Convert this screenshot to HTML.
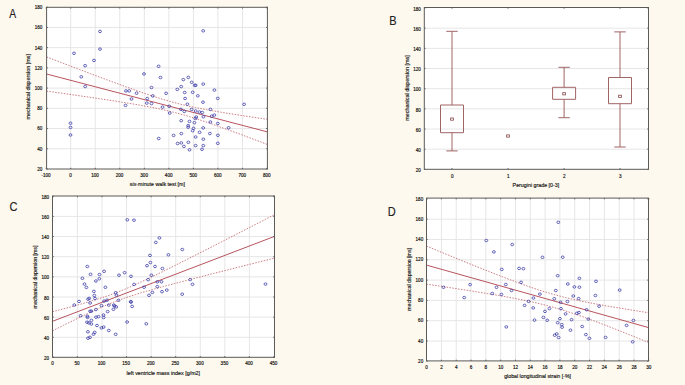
<!DOCTYPE html>
<html><head><meta charset="utf-8"><style>
html,body{margin:0;padding:0;background:#fef9ee;}
body{width:685px;height:385px;overflow:hidden;}
svg{display:block;}
.t{font-family:"Liberation Sans", sans-serif;font-size:5.1px;fill:#111;stroke:#111;stroke-width:0.18px;}
.a{font-family:"Liberation Sans", sans-serif;font-size:5.3px;fill:#111;stroke:#111;stroke-width:0.15px;}
.L{font-family:"Liberation Sans", sans-serif;font-size:12px;fill:#222;stroke:#222;stroke-width:0.15px;}
</style></head><body>
<svg width="685" height="385" viewBox="0 0 685 385">
<rect width="685" height="385" fill="#fef9ee"/>
<rect x="46.6" y="7.3" width="220.8" height="161.7" fill="#fff"/>
<path d="M70.7 7.3V169M95.24 7.3V169M119.79 7.3V169M144.33 7.3V169M168.87 7.3V169M193.41 7.3V169M217.96 7.3V169M242.5 7.3V169M46.6 27.43H267.4M46.6 47.65H267.4M46.6 67.88H267.4M46.6 88.1H267.4M46.6 108.33H267.4M46.6 128.55H267.4M46.6 148.78H267.4" stroke="#e6e6e6" stroke-width="1.0" fill="none"/>
<line x1="46.6" y1="74" x2="267.4" y2="131.9" stroke="#b8545e" stroke-width="1"/>
<path d="M46.6 56.93 L52.12 59.05 L57.64 61.16 L63.16 63.27 L68.68 65.37 L74.2 67.47 L79.72 69.57 L85.24 71.66 L90.76 73.75 L96.28 75.83 L101.8 77.9 L107.32 79.96 L112.84 82.01 L118.36 84.04 L123.88 86.06 L129.4 88.05 L134.92 90.02 L140.44 91.96 L145.96 93.86 L151.48 95.7 L157 97.49 L162.52 99.21 L168.04 100.84 L173.56 102.38 L179.08 103.82 L184.6 105.16 L190.12 106.41 L195.64 107.58 L201.16 108.67 L206.68 109.71 L212.2 110.71 L217.72 111.66 L223.24 112.58 L228.76 113.48 L234.28 114.35 L239.8 115.21 L245.32 116.05 L250.84 116.89 L256.36 117.71 L261.88 118.53 L267.4 119.33" stroke="#c4646c" stroke-width="0.85" fill="none" stroke-dasharray="1.5 1.4"/>
<path d="M46.6 91.07 L52.12 91.85 L57.64 92.63 L63.16 93.42 L68.68 94.21 L74.2 95 L79.72 95.8 L85.24 96.6 L90.76 97.41 L96.28 98.23 L101.8 99.05 L107.32 99.89 L112.84 100.73 L118.36 101.59 L123.88 102.47 L129.4 103.37 L134.92 104.3 L140.44 105.26 L145.96 106.25 L151.48 107.3 L157 108.41 L162.52 109.59 L168.04 110.85 L173.56 112.21 L179.08 113.66 L184.6 115.22 L190.12 116.86 L195.64 118.59 L201.16 120.39 L206.68 122.24 L212.2 124.14 L217.72 126.09 L223.24 128.06 L228.76 130.06 L234.28 132.08 L239.8 134.12 L245.32 136.17 L250.84 138.23 L256.36 140.3 L261.88 142.38 L267.4 144.47" stroke="#c4646c" stroke-width="0.85" fill="none" stroke-dasharray="1.5 1.4"/>
<g fill="none" stroke="#3434a6" stroke-width="0.75"><ellipse cx="100" cy="31.4" rx="1.45" ry="1.25"/><ellipse cx="100" cy="49.1" rx="1.45" ry="1.25"/><ellipse cx="74" cy="53.3" rx="1.45" ry="1.25"/><ellipse cx="94" cy="60.4" rx="1.45" ry="1.25"/><ellipse cx="85.1" cy="65.7" rx="1.45" ry="1.25"/><ellipse cx="81.3" cy="76.8" rx="1.45" ry="1.25"/><ellipse cx="85.2" cy="86.5" rx="1.45" ry="1.25"/><ellipse cx="144" cy="73.9" rx="1.45" ry="1.25"/><ellipse cx="151.5" cy="87.5" rx="1.45" ry="1.25"/><ellipse cx="70.5" cy="123.2" rx="1.45" ry="1.25"/><ellipse cx="70.5" cy="127.4" rx="1.45" ry="1.25"/><ellipse cx="70.5" cy="135" rx="1.45" ry="1.25"/><ellipse cx="126" cy="90.9" rx="1.45" ry="1.25"/><ellipse cx="129.2" cy="90.9" rx="1.45" ry="1.25"/><ellipse cx="136.6" cy="93.2" rx="1.45" ry="1.25"/><ellipse cx="131.5" cy="99" rx="1.45" ry="1.25"/><ellipse cx="125.5" cy="105.4" rx="1.45" ry="1.25"/><ellipse cx="152.8" cy="95.9" rx="1.45" ry="1.25"/><ellipse cx="147.2" cy="98.5" rx="1.45" ry="1.25"/><ellipse cx="146.8" cy="103.1" rx="1.45" ry="1.25"/><ellipse cx="151.5" cy="103.6" rx="1.45" ry="1.25"/><ellipse cx="203.2" cy="30.8" rx="1.45" ry="1.25"/><ellipse cx="158.6" cy="66.3" rx="1.45" ry="1.25"/><ellipse cx="160.5" cy="77.5" rx="1.45" ry="1.25"/><ellipse cx="183.3" cy="79.6" rx="1.45" ry="1.25"/><ellipse cx="188.3" cy="77.4" rx="1.45" ry="1.25"/><ellipse cx="191.7" cy="82.3" rx="1.45" ry="1.25"/><ellipse cx="194.7" cy="85.3" rx="1.45" ry="1.25"/><ellipse cx="195.7" cy="85.3" rx="1.45" ry="1.25"/><ellipse cx="203.2" cy="84.1" rx="1.45" ry="1.25"/><ellipse cx="181.2" cy="86.6" rx="1.45" ry="1.25"/><ellipse cx="177.3" cy="89.4" rx="1.45" ry="1.25"/><ellipse cx="166.1" cy="93.3" rx="1.45" ry="1.25"/><ellipse cx="184.7" cy="92.5" rx="1.45" ry="1.25"/><ellipse cx="192.7" cy="92.3" rx="1.45" ry="1.25"/><ellipse cx="197.8" cy="95.8" rx="1.45" ry="1.25"/><ellipse cx="185.1" cy="98.5" rx="1.45" ry="1.25"/><ellipse cx="203" cy="102.2" rx="1.45" ry="1.25"/><ellipse cx="187.4" cy="104.2" rx="1.45" ry="1.25"/><ellipse cx="162.5" cy="107.1" rx="1.45" ry="1.25"/><ellipse cx="169.2" cy="106.3" rx="1.45" ry="1.25"/><ellipse cx="180.9" cy="109.4" rx="1.45" ry="1.25"/><ellipse cx="184.3" cy="111.4" rx="1.45" ry="1.25"/><ellipse cx="191.6" cy="109.4" rx="1.45" ry="1.25"/><ellipse cx="195.7" cy="111" rx="1.45" ry="1.25"/><ellipse cx="199.4" cy="112" rx="1.45" ry="1.25"/><ellipse cx="202.2" cy="112.5" rx="1.45" ry="1.25"/><ellipse cx="203.4" cy="116.8" rx="1.45" ry="1.25"/><ellipse cx="169.7" cy="113.1" rx="1.45" ry="1.25"/><ellipse cx="196.2" cy="117" rx="1.45" ry="1.25"/><ellipse cx="195.4" cy="118.5" rx="1.45" ry="1.25"/><ellipse cx="181.2" cy="120.7" rx="1.45" ry="1.25"/><ellipse cx="189.5" cy="121.4" rx="1.45" ry="1.25"/><ellipse cx="194.4" cy="122.7" rx="1.45" ry="1.25"/><ellipse cx="188.2" cy="125.6" rx="1.45" ry="1.25"/><ellipse cx="188.2" cy="127.2" rx="1.45" ry="1.25"/><ellipse cx="214.4" cy="90.1" rx="1.45" ry="1.25"/><ellipse cx="217.8" cy="98.4" rx="1.45" ry="1.25"/><ellipse cx="244.1" cy="104.3" rx="1.45" ry="1.25"/><ellipse cx="210.4" cy="109.4" rx="1.45" ry="1.25"/><ellipse cx="211.7" cy="116.2" rx="1.45" ry="1.25"/><ellipse cx="214.3" cy="115.1" rx="1.45" ry="1.25"/><ellipse cx="210.4" cy="122" rx="1.45" ry="1.25"/><ellipse cx="217.8" cy="123.5" rx="1.45" ry="1.25"/><ellipse cx="228.6" cy="127.8" rx="1.45" ry="1.25"/><ellipse cx="203.2" cy="127.9" rx="1.45" ry="1.25"/><ellipse cx="193.5" cy="128.3" rx="1.45" ry="1.25"/><ellipse cx="192.7" cy="130.7" rx="1.45" ry="1.25"/><ellipse cx="199.6" cy="132.3" rx="1.45" ry="1.25"/><ellipse cx="209.9" cy="133.5" rx="1.45" ry="1.25"/><ellipse cx="217.9" cy="135.3" rx="1.45" ry="1.25"/><ellipse cx="181.3" cy="133.6" rx="1.45" ry="1.25"/><ellipse cx="173.6" cy="135.4" rx="1.45" ry="1.25"/><ellipse cx="158.7" cy="138.5" rx="1.45" ry="1.25"/><ellipse cx="195.6" cy="137" rx="1.45" ry="1.25"/><ellipse cx="203.3" cy="139.2" rx="1.45" ry="1.25"/><ellipse cx="177.6" cy="143.5" rx="1.45" ry="1.25"/><ellipse cx="181.3" cy="142.9" rx="1.45" ry="1.25"/><ellipse cx="188.4" cy="142.3" rx="1.45" ry="1.25"/><ellipse cx="183.9" cy="146.4" rx="1.45" ry="1.25"/><ellipse cx="195.6" cy="145.6" rx="1.45" ry="1.25"/><ellipse cx="203.3" cy="145.6" rx="1.45" ry="1.25"/><ellipse cx="202" cy="149.3" rx="1.45" ry="1.25"/><ellipse cx="189.5" cy="149.8" rx="1.45" ry="1.25"/><ellipse cx="217.8" cy="143.3" rx="1.45" ry="1.25"/></g>
<rect x="46.6" y="7.3" width="220.8" height="161.7" fill="none" stroke="#5a5a5a" stroke-width="1"/>
<path d="M46.16 169v-1.2M46.16 7.3v1.2M70.7 169v-1.2M70.7 7.3v1.2M95.24 169v-1.2M95.24 7.3v1.2M119.79 169v-1.2M119.79 7.3v1.2M144.33 169v-1.2M144.33 7.3v1.2M168.87 169v-1.2M168.87 7.3v1.2M193.41 169v-1.2M193.41 7.3v1.2M217.96 169v-1.2M217.96 7.3v1.2M242.5 169v-1.2M242.5 7.3v1.2M267.04 169v-1.2M267.04 7.3v1.2M46.6 7.2h1.2M267.4 7.2h-1.2M46.6 27.43h1.2M267.4 27.43h-1.2M46.6 47.65h1.2M267.4 47.65h-1.2M46.6 67.88h1.2M267.4 67.88h-1.2M46.6 88.1h1.2M267.4 88.1h-1.2M46.6 108.33h1.2M267.4 108.33h-1.2M46.6 128.55h1.2M267.4 128.55h-1.2M46.6 148.78h1.2M267.4 148.78h-1.2M46.6 169h1.2M267.4 169h-1.2" stroke="#5a5a5a" stroke-width="1" fill="none"/>
<text transform="translate(42.4 170.9) scale(0.9 1)" text-anchor="end" class="t">20</text>
<text transform="translate(42.4 150.68) scale(0.9 1)" text-anchor="end" class="t">40</text>
<text transform="translate(42.4 130.45) scale(0.9 1)" text-anchor="end" class="t">60</text>
<text transform="translate(42.4 110.22) scale(0.9 1)" text-anchor="end" class="t">80</text>
<text transform="translate(42.4 90) scale(0.9 1)" text-anchor="end" class="t">100</text>
<text transform="translate(42.4 69.77) scale(0.9 1)" text-anchor="end" class="t">120</text>
<text transform="translate(42.4 49.55) scale(0.9 1)" text-anchor="end" class="t">140</text>
<text transform="translate(42.4 29.33) scale(0.9 1)" text-anchor="end" class="t">160</text>
<text transform="translate(42.4 9.1) scale(0.9 1)" text-anchor="end" class="t">180</text>
<text transform="translate(45.96 176.6) scale(0.9 1)" text-anchor="middle" class="t">-100</text>
<text transform="translate(70.5 176.6) scale(0.9 1)" text-anchor="middle" class="t">0</text>
<text transform="translate(95.04 176.6) scale(0.9 1)" text-anchor="middle" class="t">100</text>
<text transform="translate(119.59 176.6) scale(0.9 1)" text-anchor="middle" class="t">200</text>
<text transform="translate(144.13 176.6) scale(0.9 1)" text-anchor="middle" class="t">300</text>
<text transform="translate(168.67 176.6) scale(0.9 1)" text-anchor="middle" class="t">400</text>
<text transform="translate(193.21 176.6) scale(0.9 1)" text-anchor="middle" class="t">500</text>
<text transform="translate(217.76 176.6) scale(0.9 1)" text-anchor="middle" class="t">600</text>
<text transform="translate(242.3 176.6) scale(0.9 1)" text-anchor="middle" class="t">700</text>
<text transform="translate(266.84 176.6) scale(0.9 1)" text-anchor="middle" class="t">800</text>
<rect x="424.3" y="7.5" width="224.2" height="161.8" fill="#fff"/>
<path d="M424.3 28.2H648.5M424.3 48.36H648.5M424.3 68.52H648.5M424.3 88.69H648.5M424.3 108.85H648.5M424.3 129.02H648.5M424.3 149.19H648.5" stroke="#e6e6e6" stroke-width="1.0" fill="none"/>
<path d="M452 31.3V105M452 132.7V150.9M446.3 31.3H457.7M446.3 150.9H457.7M440.5 105H463.5V132.7H440.5Z" stroke="#a06464" stroke-width="1" fill="none"/>
<rect x="450.65" y="118" width="2.7" height="2.2" fill="none" stroke="#7a3a3a" stroke-width="0.75"/>
<path d="" stroke="#a06464" stroke-width="1" fill="none"/>
<rect x="506.65" y="134.9" width="2.7" height="2.2" fill="none" stroke="#7a3a3a" stroke-width="0.75"/>
<path d="M564.1 67.3V87.3M564.1 99.3V117.7M558.4 67.3H569.8M558.4 117.7H569.8M552.6 87.3H575.6V99.3H552.6Z" stroke="#a06464" stroke-width="1" fill="none"/>
<rect x="562.75" y="92.7" width="2.7" height="2.2" fill="none" stroke="#7a3a3a" stroke-width="0.75"/>
<path d="M620 31.9V77.5M620 103.7V147M614.3 31.9H625.7M614.3 147H625.7M608.5 77.5H631.5V103.7H608.5Z" stroke="#a06464" stroke-width="1" fill="none"/>
<rect x="618.65" y="95.2" width="2.7" height="2.2" fill="none" stroke="#7a3a3a" stroke-width="0.75"/>
<rect x="424.3" y="7.5" width="224.2" height="161.8" fill="none" stroke="#5a5a5a" stroke-width="1"/>
<path d="M452 169.3v-1.2M452 7.5v1.2M508 169.3v-1.2M508 7.5v1.2M564.1 169.3v-1.2M564.1 7.5v1.2M620 169.3v-1.2M620 7.5v1.2M424.3 8.03h1.2M648.5 8.03h-1.2M424.3 28.2h1.2M648.5 28.2h-1.2M424.3 48.36h1.2M648.5 48.36h-1.2M424.3 68.52h1.2M648.5 68.52h-1.2M424.3 88.69h1.2M648.5 88.69h-1.2M424.3 108.85h1.2M648.5 108.85h-1.2M424.3 129.02h1.2M648.5 129.02h-1.2M424.3 149.19h1.2M648.5 149.19h-1.2M424.3 169.35h1.2M648.5 169.35h-1.2" stroke="#5a5a5a" stroke-width="1" fill="none"/>
<text transform="translate(420.8 172.05) scale(0.9 1)" text-anchor="end" class="t">20</text>
<text transform="translate(420.8 151.88) scale(0.9 1)" text-anchor="end" class="t">40</text>
<text transform="translate(420.8 131.72) scale(0.9 1)" text-anchor="end" class="t">60</text>
<text transform="translate(420.8 111.55) scale(0.9 1)" text-anchor="end" class="t">80</text>
<text transform="translate(420.8 91.39) scale(0.9 1)" text-anchor="end" class="t">100</text>
<text transform="translate(420.8 71.22) scale(0.9 1)" text-anchor="end" class="t">120</text>
<text transform="translate(420.8 51.06) scale(0.9 1)" text-anchor="end" class="t">140</text>
<text transform="translate(420.8 30.9) scale(0.9 1)" text-anchor="end" class="t">160</text>
<text transform="translate(420.8 10.73) scale(0.9 1)" text-anchor="end" class="t">180</text>
<text transform="translate(452.2 178.2) scale(0.9 1)" text-anchor="middle" class="t">0</text>
<text transform="translate(508.2 178.2) scale(0.9 1)" text-anchor="middle" class="t">1</text>
<text transform="translate(564.3 178.2) scale(0.9 1)" text-anchor="middle" class="t">2</text>
<text transform="translate(620.2 178.2) scale(0.9 1)" text-anchor="middle" class="t">3</text>
<rect x="52.5" y="196" width="222" height="161.3" fill="#fff"/>
<path d="M77.4 196V357.3M101.97 196V357.3M126.54 196V357.3M151.11 196V357.3M175.69 196V357.3M200.26 196V357.3M224.83 196V357.3M249.4 196V357.3M52.5 216.4H274.5M52.5 236.55H274.5M52.5 256.7H274.5M52.5 276.85H274.5M52.5 297H274.5M52.5 317.15H274.5M52.5 337.3H274.5" stroke="#e6e6e6" stroke-width="1.0" fill="none"/>
<line x1="52.5" y1="321.3" x2="274.5" y2="236.4" stroke="#b8545e" stroke-width="1"/>
<path d="M52.5 311.77 L58.05 310.31 L63.6 308.83 L69.15 307.34 L74.7 305.82 L80.25 304.27 L85.8 302.68 L91.35 301.05 L96.9 299.35 L102.45 297.56 L108 295.68 L113.55 293.68 L119.1 291.55 L124.65 289.29 L130.2 286.92 L135.75 284.44 L141.3 281.89 L146.85 279.27 L152.4 276.61 L157.95 273.91 L163.5 271.18 L169.05 268.43 L174.6 265.66 L180.15 262.87 L185.7 260.08 L191.25 257.27 L196.8 254.46 L202.35 251.64 L207.9 248.82 L213.45 245.99 L219 243.16 L224.55 240.32 L230.1 237.48 L235.65 234.64 L241.2 231.8 L246.75 228.95 L252.3 226.1 L257.85 223.26 L263.4 220.41 L268.95 217.55 L274.5 214.7" stroke="#c4646c" stroke-width="0.85" fill="none" stroke-dasharray="1.5 1.4"/>
<path d="M52.5 330.83 L58.05 328.05 L63.6 325.28 L69.15 322.53 L74.7 319.8 L80.25 317.11 L85.8 314.45 L91.35 311.84 L96.9 309.29 L102.45 306.83 L108 304.47 L113.55 302.23 L119.1 300.11 L124.65 298.13 L130.2 296.25 L135.75 294.48 L141.3 292.79 L146.85 291.16 L152.4 289.58 L157.95 288.03 L163.5 286.52 L169.05 285.03 L174.6 283.55 L180.15 282.09 L185.7 280.64 L191.25 279.2 L196.8 277.77 L202.35 276.34 L207.9 274.92 L213.45 273.51 L219 272.09 L224.55 270.68 L230.1 269.28 L235.65 267.87 L241.2 266.47 L246.75 265.07 L252.3 263.68 L257.85 262.28 L263.4 260.88 L268.95 259.49 L274.5 258.1" stroke="#c4646c" stroke-width="0.85" fill="none" stroke-dasharray="1.5 1.4"/>
<g fill="none" stroke="#3434a6" stroke-width="0.75"><ellipse cx="127.3" cy="219.8" rx="1.45" ry="1.25"/><ellipse cx="134" cy="220.2" rx="1.45" ry="1.25"/><ellipse cx="159.4" cy="237.9" rx="1.45" ry="1.25"/><ellipse cx="155.8" cy="242.4" rx="1.45" ry="1.25"/><ellipse cx="150" cy="255.4" rx="1.45" ry="1.25"/><ellipse cx="150.4" cy="262.5" rx="1.45" ry="1.25"/><ellipse cx="147" cy="265.7" rx="1.45" ry="1.25"/><ellipse cx="155" cy="266.5" rx="1.45" ry="1.25"/><ellipse cx="162.4" cy="268.5" rx="1.45" ry="1.25"/><ellipse cx="87.3" cy="266.5" rx="1.45" ry="1.25"/><ellipse cx="104.1" cy="271.3" rx="1.45" ry="1.25"/><ellipse cx="124.6" cy="272.7" rx="1.45" ry="1.25"/><ellipse cx="90.6" cy="274.3" rx="1.45" ry="1.25"/><ellipse cx="99.5" cy="274.5" rx="1.45" ry="1.25"/><ellipse cx="119" cy="275.2" rx="1.45" ry="1.25"/><ellipse cx="131" cy="276.3" rx="1.45" ry="1.25"/><ellipse cx="151.4" cy="275.2" rx="1.45" ry="1.25"/><ellipse cx="82.4" cy="278.3" rx="1.45" ry="1.25"/><ellipse cx="99.3" cy="278.8" rx="1.45" ry="1.25"/><ellipse cx="95.9" cy="281" rx="1.45" ry="1.25"/><ellipse cx="84.5" cy="284.1" rx="1.45" ry="1.25"/><ellipse cx="86.4" cy="287.4" rx="1.45" ry="1.25"/><ellipse cx="105.4" cy="287.3" rx="1.45" ry="1.25"/><ellipse cx="93.9" cy="291.4" rx="1.45" ry="1.25"/><ellipse cx="94.3" cy="295.5" rx="1.45" ry="1.25"/><ellipse cx="95" cy="298.6" rx="1.45" ry="1.25"/><ellipse cx="89.3" cy="298.4" rx="1.45" ry="1.25"/><ellipse cx="88.1" cy="299.2" rx="1.45" ry="1.25"/><ellipse cx="79" cy="301.4" rx="1.45" ry="1.25"/><ellipse cx="74.3" cy="305" rx="1.45" ry="1.25"/><ellipse cx="90.1" cy="303" rx="1.45" ry="1.25"/><ellipse cx="104.1" cy="301.1" rx="1.45" ry="1.25"/><ellipse cx="107" cy="300.2" rx="1.45" ry="1.25"/><ellipse cx="108.8" cy="305.1" rx="1.45" ry="1.25"/><ellipse cx="101.5" cy="305.6" rx="1.45" ry="1.25"/><ellipse cx="113.8" cy="305.1" rx="1.45" ry="1.25"/><ellipse cx="113.4" cy="309.3" rx="1.45" ry="1.25"/><ellipse cx="90.1" cy="311.2" rx="1.45" ry="1.25"/><ellipse cx="91.4" cy="311.2" rx="1.45" ry="1.25"/><ellipse cx="95.9" cy="309.5" rx="1.45" ry="1.25"/><ellipse cx="107.6" cy="311.6" rx="1.45" ry="1.25"/><ellipse cx="80.6" cy="315.7" rx="1.45" ry="1.25"/><ellipse cx="87.3" cy="316.2" rx="1.45" ry="1.25"/><ellipse cx="87.6" cy="317.4" rx="1.45" ry="1.25"/><ellipse cx="96" cy="317.2" rx="1.45" ry="1.25"/><ellipse cx="98.5" cy="316.6" rx="1.45" ry="1.25"/><ellipse cx="103.5" cy="315" rx="1.45" ry="1.25"/><ellipse cx="103.6" cy="317.5" rx="1.45" ry="1.25"/><ellipse cx="91.4" cy="320.3" rx="1.45" ry="1.25"/><ellipse cx="87" cy="322.2" rx="1.45" ry="1.25"/><ellipse cx="88.9" cy="322.9" rx="1.45" ry="1.25"/><ellipse cx="91.4" cy="324" rx="1.45" ry="1.25"/><ellipse cx="97" cy="325.5" rx="1.45" ry="1.25"/><ellipse cx="101.4" cy="327.9" rx="1.45" ry="1.25"/><ellipse cx="103.6" cy="327.1" rx="1.45" ry="1.25"/><ellipse cx="108.8" cy="330.5" rx="1.45" ry="1.25"/><ellipse cx="87.9" cy="331.8" rx="1.45" ry="1.25"/><ellipse cx="94.7" cy="332.4" rx="1.45" ry="1.25"/><ellipse cx="93.5" cy="334.2" rx="1.45" ry="1.25"/><ellipse cx="90" cy="337.3" rx="1.45" ry="1.25"/><ellipse cx="88" cy="338.2" rx="1.45" ry="1.25"/><ellipse cx="115.7" cy="334.3" rx="1.45" ry="1.25"/><ellipse cx="127.1" cy="322" rx="1.45" ry="1.25"/><ellipse cx="148.1" cy="279.7" rx="1.45" ry="1.25"/><ellipse cx="157.4" cy="281.8" rx="1.45" ry="1.25"/><ellipse cx="161.5" cy="281.8" rx="1.45" ry="1.25"/><ellipse cx="134.1" cy="284.4" rx="1.45" ry="1.25"/><ellipse cx="144.1" cy="287.2" rx="1.45" ry="1.25"/><ellipse cx="157.3" cy="286.7" rx="1.45" ry="1.25"/><ellipse cx="162" cy="291.7" rx="1.45" ry="1.25"/><ellipse cx="152.4" cy="292.4" rx="1.45" ry="1.25"/><ellipse cx="149" cy="295.3" rx="1.45" ry="1.25"/><ellipse cx="115.7" cy="292.7" rx="1.45" ry="1.25"/><ellipse cx="116.4" cy="295.1" rx="1.45" ry="1.25"/><ellipse cx="118.5" cy="300.3" rx="1.45" ry="1.25"/><ellipse cx="130.8" cy="301.6" rx="1.45" ry="1.25"/><ellipse cx="131" cy="302.1" rx="1.45" ry="1.25"/><ellipse cx="132.1" cy="306.4" rx="1.45" ry="1.25"/><ellipse cx="114.5" cy="306" rx="1.45" ry="1.25"/><ellipse cx="116.2" cy="306.9" rx="1.45" ry="1.25"/><ellipse cx="146.3" cy="323.8" rx="1.45" ry="1.25"/><ellipse cx="182.3" cy="249.5" rx="1.45" ry="1.25"/><ellipse cx="168.4" cy="254.8" rx="1.45" ry="1.25"/><ellipse cx="190.2" cy="279.6" rx="1.45" ry="1.25"/><ellipse cx="192.5" cy="284.3" rx="1.45" ry="1.25"/><ellipse cx="166.8" cy="290.1" rx="1.45" ry="1.25"/><ellipse cx="182.2" cy="294.2" rx="1.45" ry="1.25"/><ellipse cx="265.5" cy="284.1" rx="1.45" ry="1.25"/></g>
<rect x="52.5" y="196" width="222" height="161.3" fill="none" stroke="#5a5a5a" stroke-width="1"/>
<path d="M52.83 357.3v-1.2M52.83 196v1.2M77.4 357.3v-1.2M77.4 196v1.2M101.97 357.3v-1.2M101.97 196v1.2M126.54 357.3v-1.2M126.54 196v1.2M151.11 357.3v-1.2M151.11 196v1.2M175.69 357.3v-1.2M175.69 196v1.2M200.26 357.3v-1.2M200.26 196v1.2M224.83 357.3v-1.2M224.83 196v1.2M249.4 357.3v-1.2M249.4 196v1.2M273.97 357.3v-1.2M273.97 196v1.2M52.5 196.25h1.2M274.5 196.25h-1.2M52.5 216.4h1.2M274.5 216.4h-1.2M52.5 236.55h1.2M274.5 236.55h-1.2M52.5 256.7h1.2M274.5 256.7h-1.2M52.5 276.85h1.2M274.5 276.85h-1.2M52.5 297h1.2M274.5 297h-1.2M52.5 317.15h1.2M274.5 317.15h-1.2M52.5 337.3h1.2M274.5 337.3h-1.2M52.5 357.45h1.2M274.5 357.45h-1.2" stroke="#5a5a5a" stroke-width="1" fill="none"/>
<text transform="translate(49.1 360.05) scale(0.9 1)" text-anchor="end" class="t">20</text>
<text transform="translate(49.1 339.9) scale(0.9 1)" text-anchor="end" class="t">40</text>
<text transform="translate(49.1 319.75) scale(0.9 1)" text-anchor="end" class="t">60</text>
<text transform="translate(49.1 299.6) scale(0.9 1)" text-anchor="end" class="t">80</text>
<text transform="translate(49.1 279.45) scale(0.9 1)" text-anchor="end" class="t">100</text>
<text transform="translate(49.1 259.3) scale(0.9 1)" text-anchor="end" class="t">120</text>
<text transform="translate(49.1 239.15) scale(0.9 1)" text-anchor="end" class="t">140</text>
<text transform="translate(49.1 219) scale(0.9 1)" text-anchor="end" class="t">160</text>
<text transform="translate(49.1 198.85) scale(0.9 1)" text-anchor="end" class="t">180</text>
<text transform="translate(52.43 365.3) scale(0.9 1)" text-anchor="middle" class="t">0</text>
<text transform="translate(77 365.3) scale(0.9 1)" text-anchor="middle" class="t">50</text>
<text transform="translate(101.57 365.3) scale(0.9 1)" text-anchor="middle" class="t">100</text>
<text transform="translate(126.14 365.3) scale(0.9 1)" text-anchor="middle" class="t">150</text>
<text transform="translate(150.71 365.3) scale(0.9 1)" text-anchor="middle" class="t">200</text>
<text transform="translate(175.29 365.3) scale(0.9 1)" text-anchor="middle" class="t">250</text>
<text transform="translate(199.86 365.3) scale(0.9 1)" text-anchor="middle" class="t">300</text>
<text transform="translate(224.43 365.3) scale(0.9 1)" text-anchor="middle" class="t">350</text>
<text transform="translate(249 365.3) scale(0.9 1)" text-anchor="middle" class="t">400</text>
<text transform="translate(273.57 365.3) scale(0.9 1)" text-anchor="middle" class="t">450</text>
<rect x="426.5" y="198.1" width="222" height="162.8" fill="#fff"/>
<path d="M441.41 198.1V360.9M456.23 198.1V360.9M471.04 198.1V360.9M485.85 198.1V360.9M500.67 198.1V360.9M515.48 198.1V360.9M530.29 198.1V360.9M545.11 198.1V360.9M559.92 198.1V360.9M574.73 198.1V360.9M589.55 198.1V360.9M604.36 198.1V360.9M619.17 198.1V360.9M633.99 198.1V360.9M426.5 219.2H648.5M426.5 239.5H648.5M426.5 259.8H648.5M426.5 280.1H648.5M426.5 300.4H648.5M426.5 320.7H648.5M426.5 341H648.5" stroke="#e6e6e6" stroke-width="1.0" fill="none"/>
<line x1="426.5" y1="265.1" x2="648.5" y2="327.6" stroke="#b8545e" stroke-width="1"/>
<path d="M426.5 246.09 L432.05 248.38 L437.6 250.67 L443.15 252.96 L448.7 255.24 L454.25 257.52 L459.8 259.78 L465.35 262.05 L470.9 264.3 L476.45 266.54 L482 268.76 L487.55 270.98 L493.1 273.17 L498.65 275.34 L504.2 277.49 L509.75 279.61 L515.3 281.69 L520.85 283.73 L526.4 285.72 L531.95 287.64 L537.5 289.5 L543.05 291.28 L548.6 292.97 L554.15 294.56 L559.7 296.07 L565.25 297.48 L570.8 298.8 L576.35 300.05 L581.9 301.23 L587.45 302.36 L593 303.43 L598.55 304.46 L604.1 305.46 L609.65 306.43 L615.2 307.38 L620.75 308.3 L626.3 309.21 L631.85 310.1 L637.4 310.99 L642.95 311.86 L648.5 312.72" stroke="#c4646c" stroke-width="0.85" fill="none" stroke-dasharray="1.5 1.4"/>
<path d="M426.5 284.11 L432.05 284.94 L437.6 285.78 L443.15 286.62 L448.7 287.46 L454.25 288.31 L459.8 289.17 L465.35 290.03 L470.9 290.9 L476.45 291.79 L482 292.69 L487.55 293.6 L493.1 294.53 L498.65 295.48 L504.2 296.46 L509.75 297.47 L515.3 298.51 L520.85 299.6 L526.4 300.73 L531.95 301.93 L537.5 303.2 L543.05 304.55 L548.6 305.98 L554.15 307.51 L559.7 309.13 L565.25 310.85 L570.8 312.65 L576.35 314.52 L581.9 316.47 L587.45 318.47 L593 320.52 L598.55 322.61 L604.1 324.74 L609.65 326.89 L615.2 329.07 L620.75 331.27 L626.3 333.49 L631.85 335.72 L637.4 337.96 L642.95 340.22 L648.5 342.48" stroke="#c4646c" stroke-width="0.85" fill="none" stroke-dasharray="1.5 1.4"/>
<g fill="none" stroke="#3434a6" stroke-width="0.75"><ellipse cx="486.3" cy="240.5" rx="1.45" ry="1.25"/><ellipse cx="493.9" cy="251.9" rx="1.45" ry="1.25"/><ellipse cx="512.2" cy="244.5" rx="1.45" ry="1.25"/><ellipse cx="501.8" cy="269.4" rx="1.45" ry="1.25"/><ellipse cx="519.1" cy="268.4" rx="1.45" ry="1.25"/><ellipse cx="523.4" cy="268.7" rx="1.45" ry="1.25"/><ellipse cx="443.5" cy="287.3" rx="1.45" ry="1.25"/><ellipse cx="470.1" cy="284.6" rx="1.45" ry="1.25"/><ellipse cx="464.2" cy="297.6" rx="1.45" ry="1.25"/><ellipse cx="496.5" cy="287.3" rx="1.45" ry="1.25"/><ellipse cx="492.3" cy="293.5" rx="1.45" ry="1.25"/><ellipse cx="501.4" cy="294.4" rx="1.45" ry="1.25"/><ellipse cx="505.8" cy="284.5" rx="1.45" ry="1.25"/><ellipse cx="558.3" cy="222.3" rx="1.45" ry="1.25"/><ellipse cx="542.5" cy="257.3" rx="1.45" ry="1.25"/><ellipse cx="562.7" cy="257.2" rx="1.45" ry="1.25"/><ellipse cx="557.7" cy="275.7" rx="1.45" ry="1.25"/><ellipse cx="579.4" cy="278.3" rx="1.45" ry="1.25"/><ellipse cx="521.1" cy="282.3" rx="1.45" ry="1.25"/><ellipse cx="567.8" cy="284" rx="1.45" ry="1.25"/><ellipse cx="574.4" cy="286.9" rx="1.45" ry="1.25"/><ellipse cx="579.4" cy="287.2" rx="1.45" ry="1.25"/><ellipse cx="511.5" cy="290.5" rx="1.45" ry="1.25"/><ellipse cx="555.8" cy="290.5" rx="1.45" ry="1.25"/><ellipse cx="539.9" cy="294.1" rx="1.45" ry="1.25"/><ellipse cx="533.4" cy="298" rx="1.45" ry="1.25"/><ellipse cx="554.3" cy="298.7" rx="1.45" ry="1.25"/><ellipse cx="573.3" cy="296" rx="1.45" ry="1.25"/><ellipse cx="578.7" cy="298.6" rx="1.45" ry="1.25"/><ellipse cx="528.6" cy="301.4" rx="1.45" ry="1.25"/><ellipse cx="560.6" cy="302.3" rx="1.45" ry="1.25"/><ellipse cx="567.4" cy="301.5" rx="1.45" ry="1.25"/><ellipse cx="524.6" cy="305.4" rx="1.45" ry="1.25"/><ellipse cx="533.2" cy="307.9" rx="1.45" ry="1.25"/><ellipse cx="549.4" cy="308.6" rx="1.45" ry="1.25"/><ellipse cx="561" cy="308.7" rx="1.45" ry="1.25"/><ellipse cx="545" cy="311.4" rx="1.45" ry="1.25"/><ellipse cx="565.6" cy="313.9" rx="1.45" ry="1.25"/><ellipse cx="576.9" cy="313.3" rx="1.45" ry="1.25"/><ellipse cx="578.9" cy="312.6" rx="1.45" ry="1.25"/><ellipse cx="506.3" cy="326.9" rx="1.45" ry="1.25"/><ellipse cx="534.5" cy="320.1" rx="1.45" ry="1.25"/><ellipse cx="543.4" cy="317.4" rx="1.45" ry="1.25"/><ellipse cx="547.2" cy="320.3" rx="1.45" ry="1.25"/><ellipse cx="559.9" cy="318.7" rx="1.45" ry="1.25"/><ellipse cx="557.7" cy="322.7" rx="1.45" ry="1.25"/><ellipse cx="561.8" cy="324.6" rx="1.45" ry="1.25"/><ellipse cx="562.1" cy="327.2" rx="1.45" ry="1.25"/><ellipse cx="571.6" cy="319.7" rx="1.45" ry="1.25"/><ellipse cx="570.5" cy="330.2" rx="1.45" ry="1.25"/><ellipse cx="554.7" cy="335.2" rx="1.45" ry="1.25"/><ellipse cx="556.7" cy="333.9" rx="1.45" ry="1.25"/><ellipse cx="558.6" cy="337.5" rx="1.45" ry="1.25"/><ellipse cx="596" cy="281.3" rx="1.45" ry="1.25"/><ellipse cx="619.7" cy="290.1" rx="1.45" ry="1.25"/><ellipse cx="595.4" cy="295.5" rx="1.45" ry="1.25"/><ellipse cx="599.1" cy="306.2" rx="1.45" ry="1.25"/><ellipse cx="586.6" cy="309.7" rx="1.45" ry="1.25"/><ellipse cx="588.4" cy="319.1" rx="1.45" ry="1.25"/><ellipse cx="582.2" cy="326.5" rx="1.45" ry="1.25"/><ellipse cx="585.9" cy="334.6" rx="1.45" ry="1.25"/><ellipse cx="589.4" cy="338.3" rx="1.45" ry="1.25"/><ellipse cx="605.6" cy="337.4" rx="1.45" ry="1.25"/><ellipse cx="633.4" cy="320.4" rx="1.45" ry="1.25"/><ellipse cx="626.6" cy="325.4" rx="1.45" ry="1.25"/><ellipse cx="632.7" cy="341.8" rx="1.45" ry="1.25"/></g>
<rect x="426.5" y="198.1" width="222" height="162.8" fill="none" stroke="#5a5a5a" stroke-width="1"/>
<path d="M426.6 360.9v-1.2M426.6 198.1v1.2M441.41 360.9v-1.2M441.41 198.1v1.2M456.23 360.9v-1.2M456.23 198.1v1.2M471.04 360.9v-1.2M471.04 198.1v1.2M485.85 360.9v-1.2M485.85 198.1v1.2M500.67 360.9v-1.2M500.67 198.1v1.2M515.48 360.9v-1.2M515.48 198.1v1.2M530.29 360.9v-1.2M530.29 198.1v1.2M545.11 360.9v-1.2M545.11 198.1v1.2M559.92 360.9v-1.2M559.92 198.1v1.2M574.73 360.9v-1.2M574.73 198.1v1.2M589.55 360.9v-1.2M589.55 198.1v1.2M604.36 360.9v-1.2M604.36 198.1v1.2M619.17 360.9v-1.2M619.17 198.1v1.2M633.99 360.9v-1.2M633.99 198.1v1.2M648.8 360.9v-1.2M648.8 198.1v1.2M426.5 198.9h1.2M648.5 198.9h-1.2M426.5 219.2h1.2M648.5 219.2h-1.2M426.5 239.5h1.2M648.5 239.5h-1.2M426.5 259.8h1.2M648.5 259.8h-1.2M426.5 280.1h1.2M648.5 280.1h-1.2M426.5 300.4h1.2M648.5 300.4h-1.2M426.5 320.7h1.2M648.5 320.7h-1.2M426.5 341h1.2M648.5 341h-1.2M426.5 361.3h1.2M648.5 361.3h-1.2" stroke="#5a5a5a" stroke-width="1" fill="none"/>
<text transform="translate(423.2 362.9) scale(0.9 1)" text-anchor="end" class="t">20</text>
<text transform="translate(423.2 342.6) scale(0.9 1)" text-anchor="end" class="t">40</text>
<text transform="translate(423.2 322.3) scale(0.9 1)" text-anchor="end" class="t">60</text>
<text transform="translate(423.2 302) scale(0.9 1)" text-anchor="end" class="t">80</text>
<text transform="translate(423.2 281.7) scale(0.9 1)" text-anchor="end" class="t">100</text>
<text transform="translate(423.2 261.4) scale(0.9 1)" text-anchor="end" class="t">120</text>
<text transform="translate(423.2 241.1) scale(0.9 1)" text-anchor="end" class="t">140</text>
<text transform="translate(423.2 220.8) scale(0.9 1)" text-anchor="end" class="t">160</text>
<text transform="translate(423.2 200.5) scale(0.9 1)" text-anchor="end" class="t">180</text>
<text transform="translate(426.6 369.1) scale(0.9 1)" text-anchor="middle" class="t">0</text>
<text transform="translate(441.41 369.1) scale(0.9 1)" text-anchor="middle" class="t">2</text>
<text transform="translate(456.23 369.1) scale(0.9 1)" text-anchor="middle" class="t">4</text>
<text transform="translate(471.04 369.1) scale(0.9 1)" text-anchor="middle" class="t">6</text>
<text transform="translate(485.85 369.1) scale(0.9 1)" text-anchor="middle" class="t">8</text>
<text transform="translate(500.67 369.1) scale(0.9 1)" text-anchor="middle" class="t">10</text>
<text transform="translate(515.48 369.1) scale(0.9 1)" text-anchor="middle" class="t">12</text>
<text transform="translate(530.29 369.1) scale(0.9 1)" text-anchor="middle" class="t">14</text>
<text transform="translate(545.11 369.1) scale(0.9 1)" text-anchor="middle" class="t">16</text>
<text transform="translate(559.92 369.1) scale(0.9 1)" text-anchor="middle" class="t">18</text>
<text transform="translate(574.73 369.1) scale(0.9 1)" text-anchor="middle" class="t">20</text>
<text transform="translate(589.55 369.1) scale(0.9 1)" text-anchor="middle" class="t">22</text>
<text transform="translate(604.36 369.1) scale(0.9 1)" text-anchor="middle" class="t">24</text>
<text transform="translate(619.17 369.1) scale(0.9 1)" text-anchor="middle" class="t">26</text>
<text transform="translate(633.99 369.1) scale(0.9 1)" text-anchor="middle" class="t">28</text>
<text transform="translate(648.8 369.1) scale(0.9 1)" text-anchor="middle" class="t">30</text>
<text x="129.8" y="185.8" textLength="55.2" lengthAdjust="spacingAndGlyphs" class="a">six-minute walk test [m]</text>
<text x="512.6" y="186.9" textLength="46.6" lengthAdjust="spacingAndGlyphs" class="a">Perugini grade [0-3]</text>
<text x="126.5" y="374.9" textLength="73.6" lengthAdjust="spacingAndGlyphs" class="a">left ventricle mass index [g/m2]</text>
<text x="504.2" y="377.6" textLength="66.8" lengthAdjust="spacingAndGlyphs" class="a">global longitudinal strain [-%]</text>
<text transform="translate(30.2 86.8) rotate(-90)" x="-32.75" textLength="65.5" lengthAdjust="spacingAndGlyphs" class="a">mechanical dispersion [ms]</text>
<text transform="translate(409.2 88) rotate(-90)" x="-32.75" textLength="65.5" lengthAdjust="spacingAndGlyphs" class="a">mechanical dispersion [ms]</text>
<text transform="translate(36.8 277) rotate(-90)" x="-31.4" textLength="62.8" lengthAdjust="spacingAndGlyphs" class="a">mechanical dispersion [ms]</text>
<text transform="translate(411 279.4) rotate(-90)" x="-31.4" textLength="62.8" lengthAdjust="spacingAndGlyphs" class="a">mechanical dispersion [ms]</text>
<text transform="translate(9.2 17.7) scale(0.86 1)" class="L">A</text>
<text transform="translate(389.3 24.9) scale(0.92 1)" class="L">B</text>
<text transform="translate(9.6 210.8) scale(0.92 1)" class="L">C</text>
<text transform="translate(387.8 215.8) scale(0.92 1)" class="L">D</text>
</svg>
</body></html>
